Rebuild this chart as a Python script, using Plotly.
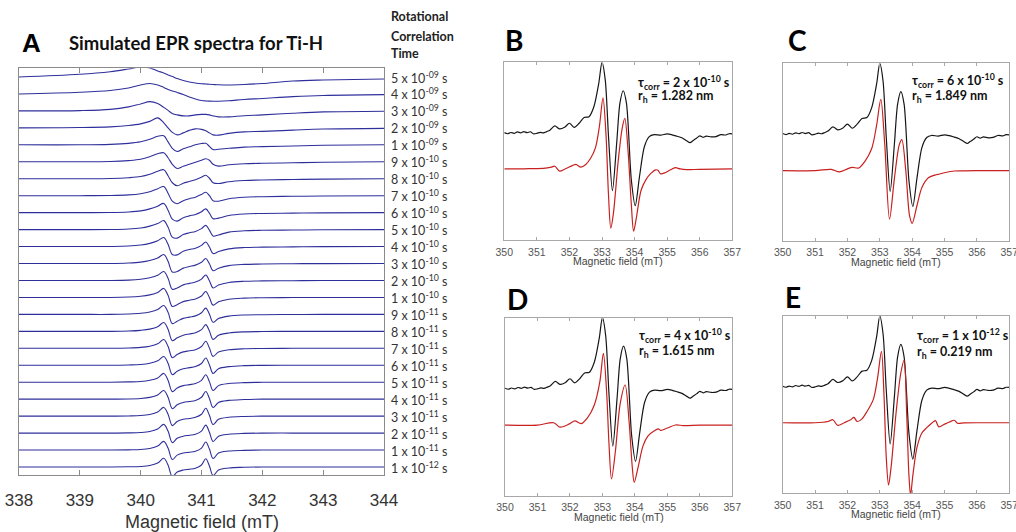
import plotly.graph_objects as go

W, H = 1016, 532

# ---------------- panel A: simulated spectra, one row per correlation time ----------------
A_FIELD = [338.0, 339.0, 339.5, 339.8, 340.0, 340.15, 340.28, 340.38, 340.45, 340.52,
           340.6, 340.7, 340.8, 340.9, 341.0, 341.07, 341.13, 341.19, 341.28, 341.45,
           341.7, 342.0, 342.5, 343.0, 344.0]

A_LABELS = ["5 x 10<sup>-09</sup> s", "4 x 10<sup>-09</sup> s", "3 x 10<sup>-09</sup> s",
            "2 x 10<sup>-09</sup> s", "1 x 10<sup>-09</sup> s",
            "9 x 10<sup>-10</sup> s", "8 x 10<sup>-10</sup> s", "7 x 10<sup>-10</sup> s",
            "6 x 10<sup>-10</sup> s", "5 x 10<sup>-10</sup> s", "4 x 10<sup>-10</sup> s",
            "3 x 10<sup>-10</sup> s", "2 x 10<sup>-10</sup> s", "1 x 10<sup>-10</sup> s",
            "9 x 10<sup>-11</sup> s", "8 x 10<sup>-11</sup> s", "7 x 10<sup>-11</sup> s",
            "6 x 10<sup>-11</sup> s", "5 x 10<sup>-11</sup> s", "4 x 10<sup>-11</sup> s",
            "3 x 10<sup>-11</sup> s", "2 x 10<sup>-11</sup> s", "1 x 10<sup>-11</sup> s",
            "1 x 10<sup>-12</sup> s"]

A_SPECTRA = [
    [0, 2.7, 5.3, 8, 10, 9, 6, 4, 2, 0.5, -1.5, -3.5, -5, -6, -6.7, -7, -7.3, -7.5, -7.8, -8, -7.5, -6.5, -4, -3, -2],
    [0, 1.7, 3.5, 6, 9, 10.5, 9, 6.5, 4.5, 3, 1.5, -0.5, -3, -5, -6.5, -7, -7.2, -7.3, -7.3, -6.8, -5.5, -4.5, -2.7, -1.5, -0.7],
    [0, 0.3, 1.5, 4, 7, 9.3, 7.5, 3.5, 0.5, -2.5, -4, -5, -5, -4, -3.5, -3.5, -4, -5, -6, -6, -4.8, -4, -2.3, -1, -0.3],
    [0, 0.3, 1, 2.3, 4, 6.5, 10, 5, 0, -4.5, -7, -5, -2.5, -1, -1.5, -3, -5, -7, -7.3, -5.5, -4, -3.5, -2.3, -1.2, -0.5],
    [0, 0, 0.5, 1.5, 3, 5.5, 8.5, 9, 3, -3.5, -6.7, -4, -2, 0, 1.3, 1.5, -1.5, -4.7, -4.5, -3.5, -2.3, -1.8, -1.2, -0.5, 0],
    [0, 0, 0.3, 1.2, 2.5, 5, 8, 9, 4, -2.5, -6.7, -4.5, -2.5, -0.5, 1.5, 3, 1.5, -2.5, -4.3, -3, -2, -1.5, -1, -0.5, 0],
    [0, 0, 0.2, 1, 2.2, 4.5, 7.5, 9, 3, -4, -7, -4.5, -2.8, -1, 1.5, 3.5, 0.5, -4, -4.8, -3, -1.8, -1.2, -0.8, -0.4, 0],
    [0, 0, 0.2, 0.8, 2, 4, 7, 9.2, 2.5, -5.5, -8, -5, -3, -1.5, 1.2, 3.5, 0, -5, -5.5, -3, -1.5, -1, -0.6, -0.3, 0],
    [0, 0, 0.1, 0.7, 1.8, 3.8, 6.5, 9.2, 2.5, -6.5, -8.5, -5, -3.2, -1.8, 1, 3.8, -0.5, -6, -5.5, -2.8, -1.3, -0.8, -0.5, -0.2, 0],
    [0, 0, 0.1, 0.6, 1.6, 3.5, 6, 9, 2.5, -7.5, -8.5, -5, -3.2, -1.8, 1, 4.2, -0.5, -6.5, -5.3, -2.5, -1.2, -0.7, -0.4, -0.2, 0],
    [0, 0, 0.1, 0.5, 1.5, 3.2, 5.8, 9, 2.3, -8, -8.3, -4.8, -3, -1.7, 1.2, 4.6, -0.5, -7, -5, -2.3, -1, -0.6, -0.3, -0.1, 0],
    [0, 0, 0, 0.5, 1.4, 3, 5.5, 9, 2.2, -8.5, -8, -4.6, -3, -1.6, 1.3, 5, -0.3, -7.2, -4.8, -2.1, -0.9, -0.5, -0.2, -0.1, 0],
    [0, 0, 0, 0.4, 1.3, 2.8, 5.2, 9, 2.2, -8.8, -7.6, -4.4, -2.9, -1.6, 1.4, 5.5, -0.2, -7.5, -4.5, -2, -0.8, -0.4, -0.2, 0, 0],
    [0, 0, 0, 0.4, 1.2, 2.6, 5, 9, 2.1, -9, -7.2, -4.2, -2.8, -1.5, 1.5, 5.9, 0, -7.7, -4.3, -1.8, -0.7, -0.3, -0.1, 0, 0],
    [0, 0, 0, 0.4, 1.1, 2.4, 4.8, 8.9, 2.1, -9.2, -6.8, -4, -2.7, -1.5, 1.6, 6.3, 0.2, -7.9, -4.1, -1.7, -0.6, -0.3, -0.1, 0, 0],
    [0, 0, 0, 0.3, 1, 2.2, 4.6, 8.9, 2.1, -9.3, -6.5, -3.8, -2.6, -1.4, 1.7, 6.7, 0.3, -8, -3.9, -1.6, -0.5, -0.2, 0, 0, 0],
    [0, 0, 0, 0.3, 0.9, 2.1, 4.5, 8.8, 2, -9.4, -6.2, -3.6, -2.5, -1.4, 1.8, 7, 0.4, -8.1, -3.7, -1.5, -0.5, -0.2, 0, 0, 0],
    [0, 0, 0, 0.3, 0.8, 2, 4.4, 8.8, 2, -9.4, -6, -3.5, -2.4, -1.3, 1.8, 7.3, 0.5, -8.2, -3.5, -1.4, -0.4, -0.1, 0, 0, 0],
    [0, 0, 0, 0.3, 0.7, 1.9, 4.3, 8.8, 2, -9.4, -5.8, -3.4, -2.4, -1.3, 1.9, 7.5, 0.6, -8.3, -3.4, -1.3, -0.4, -0.1, 0, 0, 0],
    [0, 0, 0, 0.2, 0.7, 1.8, 4.2, 8.7, 2, -9.5, -5.6, -3.3, -2.3, -1.3, 1.9, 7.7, 0.7, -8.3, -3.3, -1.2, -0.4, 0, 0, 0, 0],
    [0, 0, 0, 0.2, 0.6, 1.7, 4.1, 8.7, 2, -9.5, -5.4, -3.2, -2.3, -1.2, 1.9, 7.9, 0.8, -8.4, -3.2, -1.1, -0.3, 0, 0, 0, 0],
    [0, 0, 0, 0.2, 0.6, 1.6, 4.1, 8.7, 2, -9.5, -5.2, -3.1, -2.2, -1.2, 2, 8, 0.9, -8.4, -3.1, -1.1, -0.3, 0, 0, 0, 0],
    [0, 0, 0, 0.2, 0.5, 1.6, 4, 8.7, 2, -9.5, -5.1, -3, -2.2, -1.2, 2, 8.1, 1, -8.5, -3, -1, -0.3, 0, 0, 0, 0],
    [0, 0, 0, 0.2, 0.5, 1.5, 4, 8.7, 2, -9.5, -5, -3, -2.2, -1.2, 2, 8.2, 1, -8.5, -3, -1, -0.3, 0, 0, 0, 0],
]

# ---------------- panels B-E: experiment (black) vs simulation (red) ----------------
EXP_SPECTRUM = [(350.0, 60.4), (350.1, 59.8), (350.2, 60.5), (350.3, 60.0), (350.4, 60.8), (350.5, 60.3),
                (350.6, 61.0), (350.7, 60.4), (350.8, 60.9), (350.9, 59.7), (351.0, 60.0), (351.1, 60.6),
                (351.2, 60.3), (351.3, 61.0), (351.4, 61.8), (351.55, 64.2), (351.7, 62.5), (351.85, 63.4),
                (352.0, 65.7), (352.15, 63.4), (352.3, 65.7), (352.45, 68.9), (352.6, 69.4), (352.75, 75),
                (352.9, 88.2), (353.0, 100), (353.1, 90), (353.2, 58), (353.32, 27.8), (353.45, 54.4),
                (353.55, 77), (353.65, 84), (353.75, 77), (353.9, 33.8), (354.02, 19.3), (354.15, 35.6),
                (354.3, 52.5), (354.45, 58.2), (354.6, 59.3), (354.8, 59.0), (355.0, 59.7), (355.15, 59.2),
                (355.3, 58.4), (355.45, 57.5), (355.6, 55.8), (355.7, 54.8), (355.8, 56.0), (355.9, 57.2),
                (356.0, 58.6), (356.1, 57.8), (356.2, 58.5), (356.35, 58.0), (356.5, 58.2), (356.65, 59.3),
                (356.8, 59.1), (356.9, 59.8), (357.0, 59.7)]

SIM_B = [(350.0, 40), (350.5, 40), (350.9, 40.2), (351.2, 40.3), (351.45, 41), (351.55, 41.5), (351.7, 38.8),
         (351.85, 39.8), (352.1, 42), (352.2, 42.6), (352.35, 41), (352.5, 42.5), (352.65, 46), (352.8, 52),
         (352.92, 64), (353.03, 80), (353.12, 60), (353.2, 25), (353.27, 6.6), (353.35, 15), (353.5, 45),
         (353.62, 63), (353.7, 68.5), (353.8, 50), (353.9, 20), (353.97, 5), (354.05, 12), (354.2, 28),
         (354.35, 34), (354.5, 37.5), (354.65, 39.5), (354.72, 39.2), (354.8, 37.2), (354.95, 38),
         (355.1, 39.5), (355.25, 40.7), (355.4, 40), (355.6, 39.6), (356.0, 39.8), (357.0, 40)]

SIM_C = [(350.0, 39.5), (351.0, 39.5), (351.5, 40.2), (351.75, 38.8), (352.0, 40.5), (352.15, 41.3),
         (352.35, 41), (352.55, 45), (352.75, 52), (352.9, 65), (353.03, 79.7), (353.15, 55), (353.3, 12.2),
         (353.45, 35), (353.6, 54), (353.68, 57), (353.8, 40), (353.92, 14), (354.0, 9.8), (354.15, 20),
         (354.3, 30), (354.5, 35.5), (354.7, 37), (354.85, 37.6), (355.0, 38.3), (355.3, 39.3), (355.6, 39.4),
         (356.0, 39.5), (357.0, 39.5)]

SIM_D = [(350.0, 39.7), (351.0, 39.7), (351.5, 41), (351.7, 38.5), (352.0, 40.5), (352.15, 42), (352.35, 40.5),
         (352.55, 44), (352.75, 51), (352.92, 64), (353.03, 80), (353.13, 58), (353.2, 30), (353.28, 9.4),
         (353.4, 25), (353.55, 52), (353.7, 62.2), (353.82, 42), (353.92, 16), (353.98, 7.5), (354.1, 16),
         (354.25, 28), (354.4, 33.5), (354.6, 36.5), (354.72, 37.5), (354.8, 36.7), (355.0, 38), (355.25, 39.7),
         (355.5, 39.4), (356.0, 39.6), (357.0, 39.7)]

SIM_E = [(350.0, 39.8), (351.0, 39.8), (351.4, 40.5), (351.55, 41.5), (351.7, 38.3), (351.9, 39.8), (352.1, 41.5),
         (352.2, 42.8), (352.3, 40.5), (352.45, 42), (352.6, 46), (352.8, 53), (352.93, 65), (353.05, 80),
         (353.13, 55), (353.2, 20), (353.27, 4.7), (353.35, 15), (353.5, 45), (353.65, 68), (353.75, 75),
         (353.83, 45), (353.9, 10), (353.95, -1), (354.02, 10), (354.15, 26), (354.3, 34), (354.45, 37),
         (354.6, 39.5), (354.72, 41), (354.82, 37.5), (355.0, 39), (355.15, 40.2), (355.3, 41.2), (355.4, 39.5),
         (355.6, 39.7), (356.0, 39.8), (357.0, 39.8)]

PANEL_LETTERS = ["B", "C", "D", "E"]
TAU_TEXT = ["2 x 10<sup>-10</sup> s", "6 x 10<sup>-10</sup> s", "4 x 10<sup>-10</sup> s", "1 x 10<sup>-12</sup> s"]
RH_TEXT = ["1.282 nm", "1.849 nm", "1.615 nm", "0.219 nm"]
SIMS = [SIM_B, SIM_C, SIM_D, SIM_E]
HEADER_LINES = ["Rotational", "Correlation", "Time"]


def px(x):
    return x / W


def py(y):
    return 1 - y / H


CALI = "Lato, Open Sans, sans-serif"
NARROW = "Liberation Sans Narrow, Arial Narrow, Liberation Sans, sans-serif"
ARIAL = "Liberation Sans, Arial, sans-serif"

fig = go.Figure()

# --- panel A ---
STEP = 16.96
n = len(A_SPECTRA)
for i, row in enumerate(A_SPECTRA):
    off = (n - 1 - i) * STEP
    fig.add_trace(go.Scatter(x=A_FIELD, y=[v + off for v in row], mode="lines",
                             line=dict(color="#2f2f9c", width=1.1, shape="spline"),
                             xaxis="x", yaxis="y", showlegend=False, hoverinfo="skip"))

annotations = []
for i, lab in enumerate(A_LABELS):
    annotations.append(dict(x=px(389), xref="paper", y=(n - 1 - i) * STEP, yref="y", text=lab,
                            showarrow=False, xanchor="left", yanchor="middle",
                            font=dict(family=CALI, size=12.5, color="#333")))

# (x domain px, y domain px) for B..E
BOXES = [((504.3, 732.3), (62.3, 240.0)), ((782.7, 1009.3), (63.3, 240.7)),
         ((505.0, 732.3), (317.7, 495.7)), ((782.7, 1009.3), (316.0, 493.3))]
LETTER_POS = [(503, 40), (786, 40), (505, 299), (783, 297)]
TEXT_POS = [(636, 82, 97), (910, 80, 96), (637, 335, 351), (915, 335, 352)]

layout = dict(
    width=W, height=H, margin=dict(l=0, r=0, t=0, b=0, autoexpand=False),
    paper_bgcolor="white", plot_bgcolor="white", showlegend=False,
    xaxis=dict(domain=[px(19), px(384)], range=[338, 344], dtick=1, ticks="inside", ticklen=5,
               tickcolor="#8a8a8a", showline=True, linecolor="#8a8a8a", linewidth=1, mirror="ticks",
               showgrid=False, zeroline=False, ticklabelstandoff=10, automargin=False,
               ticklabeloverflow="allow",
               tickfont=dict(family=NARROW, size=17, color="#333"), anchor="y"),
    yaxis=dict(domain=[py(475), py(68.3)], range=[-8, (n - 1) * STEP + 8.7], showline=True,
               linecolor="#8a8a8a", linewidth=1, mirror=True, showgrid=False, zeroline=False,
               showticklabels=False, ticks="", anchor="x", automargin=False),
)

for k in range(4):
    ax = str(k + 2)
    (x0, x1), (y0, y1) = BOXES[k]
    ex, ey = zip(*EXP_SPECTRUM)
    sx, sy = zip(*SIMS[k])
    fig.add_trace(go.Scatter(x=ex, y=ey, mode="lines", line=dict(color="#161616", width=1.2, shape="spline", smoothing=0.8),
                             xaxis="x" + ax, yaxis="y" + ax, showlegend=False, hoverinfo="skip"))
    fig.add_trace(go.Scatter(x=sx, y=sy, mode="lines", line=dict(color="#c8201f", width=1.2, shape="spline", smoothing=0.9),
                             xaxis="x" + ax, yaxis="y" + ax, showlegend=False, hoverinfo="skip"))
    layout["xaxis" + ax] = dict(domain=[px(x0), px(x1)], range=[350, 357], dtick=1, ticks="inside", ticklen=3,
                                tickcolor="#a8a8a8", showline=True, linecolor="#a8a8a8", linewidth=1,
                                mirror="ticks", showgrid=False, zeroline=False, ticklabelstandoff=2,
                                automargin=False, ticklabeloverflow="allow",
                                tickfont=dict(family=ARIAL, size=10.5, color="#555"), anchor="y" + ax)
    layout["yaxis" + ax] = dict(domain=[py(y1), py(y0)], range=[0, 100], showline=True, linecolor="#a8a8a8",
                                linewidth=1, mirror=True, showgrid=False, zeroline=False, automargin=False,
                                showticklabels=False, ticks="", anchor="x" + ax)
    annotations.append(dict(x=px((x0 + x1) / 2), y=py(y1 + 21), xref="paper", yref="paper",
                            text="Magnetic field (mT)", showarrow=False, xanchor="center", yanchor="middle",
                            font=dict(family=ARIAL, size=10.5, color="#444")))
    lx, ly = LETTER_POS[k]
    annotations.append(dict(x=px(lx), y=py(ly), xref="paper", yref="paper", text="<b>%s</b>" % PANEL_LETTERS[k],
                            showarrow=False, xanchor="left", yanchor="middle",
                            font=dict(family=CALI, size=28, color="#000")))
    tx, t1, t2 = TEXT_POS[k]
    annotations.append(dict(x=px(tx), y=py(t1), xref="paper", yref="paper",
                            text="<b>τ<sub>corr</sub> = %s</b>" % TAU_TEXT[k],
                            showarrow=False, xanchor="left", yanchor="middle",
                            font=dict(family=CALI, size=12.5, color="#111")))
    annotations.append(dict(x=px(tx), y=py(t2), xref="paper", yref="paper",
                            text="<b>r<sub>h</sub> = %s</b>" % RH_TEXT[k],
                            showarrow=False, xanchor="left", yanchor="middle",
                            font=dict(family=CALI, size=12.5, color="#111")))

# panel A headings
for line, yy in zip(HEADER_LINES, [17, 36, 54]):
    annotations.append(dict(x=px(389), y=py(yy), xref="paper", yref="paper", text="<b>%s</b>" % line,
                            showarrow=False, xanchor="left", yanchor="middle",
                            font=dict(family=CALI, size=12.5, color="#222")))
annotations += [
    dict(x=px(20), y=py(43), xref="paper", yref="paper", text="<b>A</b>", showarrow=False,
         xanchor="left", yanchor="middle", font=dict(family=ARIAL, size=26, color="#000")),
    dict(x=px(67), y=py(43), xref="paper", yref="paper", text="<b>Simulated EPR spectra for Ti-H</b>",
         showarrow=False, xanchor="left", yanchor="middle", font=dict(family=CALI, size=18.5, color="#111")),
    dict(x=px(201.5), y=py(522), xref="paper", yref="paper", text="Magnetic field (mT)", showarrow=False,
         xanchor="center", yanchor="middle", font=dict(family=NARROW, size=18, color="#333")),
]
layout["annotations"] = annotations

fig.update_layout(**layout)
fig.write_html("out.html", config={"displayModeBar": False},
               post_script="document.body.style.margin='0';")
